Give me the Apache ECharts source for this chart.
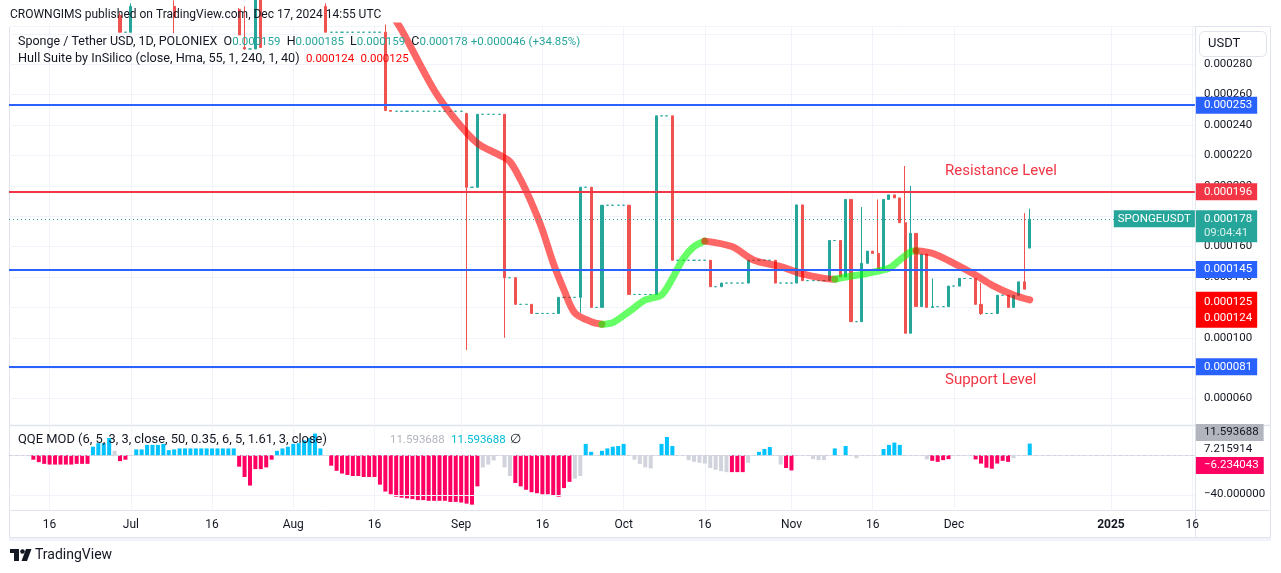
<!DOCTYPE html>
<html>
<head>
<meta charset="utf-8">
<title>Sponge / Tether USD, 1D</title>
<script src="https://cdn.jsdelivr.net/npm/echarts@6/dist/echarts.min.js"></script>
<style>
  html, body { margin: 0; padding: 0; background: #ffffff; }
  #chart { width: 1281px; height: 573px; }
</style>
</head>
<body>
<div id="chart"></div>
<script>
// prices are kept in millionths of USDT (0.000178 -> 178)
const firstDay = '2024-06-09';
const lastDay = '2025-01-16';
const missingDays = ['2024-07-27', '2024-12-01', '2024-12-02'];

const timeLabels = [
  ['2024-06-16', '16'], ['2024-07-01', 'Jul'], ['2024-07-16', '16'], ['2024-08-01', 'Aug'],
  ['2024-08-16', '16'], ['2024-09-01', 'Sep'], ['2024-09-16', '16'], ['2024-10-01', 'Oct'],
  ['2024-10-16', '16'], ['2024-11-01', 'Nov'], ['2024-11-16', '16'], ['2024-12-03', 'Dec'],
  ['2025-01-01', '2025'], ['2025-01-16', '16']
];

// one entry per daily bar: [open, close, low, high], a single number = no trades that day
const candles = [
  // June
  [326, 322, 320, 329], [322, 324, 319, 327], [324, 320, 318, 326], [320, 317, 315, 323],
  [317, 318, 314, 321], [318, 315, 313, 320], [315, 316, 312, 319], [316, 313, 311, 318],
  [313, 314, 310, 317], [314, 312, 309, 316], [312, 313, 309, 316], [313, 311, 308, 315],
  [311, 312, 308, 315], [312, 310, 307, 314], [310, 313, 308, 316], [313, 318, 311, 320],
  [318, 321, 316, 324], [321, 324, 319, 327], [324, 328, 322, 331], [328, 312, 310, 330],
  [312, 301, 301, 314], 301,
  // July
  [301, 318, 301, 320], [318, 321, 316, 323], [321, 323, 319, 325], [323, 326, 321, 328],
  [326, 327, 324, 330], [327, 329, 325, 331], [329, 320, 318, 331], [320, 318, 316, 322],
  [318, 311, 300.3, 322], [311, 314, 308, 316], [314, 316, 312, 318], [316, 318, 314, 320],
  [318, 317, 315, 320], [317, 319, 315, 321], [319, 318, 316, 321], [318, 320, 316, 322],
  [320, 319, 317, 322], [319, 321, 317, 323], [321, 320, 318, 323], [320, 316, 314, 322],
  [316, 299.2, 299.2, 317], [291, 290, 289.5, 318], 290, [290, 325, 290, 328],
  [325, 291, 291, 327], [318, 322, 316, 325], [322, 326, 320, 329], [326, 330, 324, 333],
  [330, 333, 328, 336], [333, 338, 331, 341],
  // August
  [338, 342, 336, 345], [342, 346, 340, 349], [346, 350, 344, 354], [350, 345, 343, 353],
  [345, 330, 328, 347], [330, 318, 316, 332], [318, 301, 301, 320],
  301, 301, 301, 301, 301, 301, 301, 301, 301, 301,
  [301, 249.5, 249.5, 306], [249.5, 249, 249, 249.5],
  249, 249, 249, 249, 249, 249, 249, 249, 249, 249, 249, 249,
  // September
  249, [247.5, 199, 92, 248], 199, [199, 247, 199, 247], 247, 247, 247, 247,
  [247, 139.5, 100, 247], 139.5, [139.5, 122, 122, 139.5], 122, 122,
  [122, 116, 116, 122], 116, 116, 116, 116, [116, 126.6, 116, 126.6], 126.6, 126.6, 126.6,
  [126.6, 199, 116.5, 199], 199, [199, 120, 120, 199], 120, [120, 187.2, 120, 187.2],
  187.2, 187.2, 187.2,
  // October
  187.2, [187.2, 128.5, 128.5, 187.2], 128.5, 128.5, 128.5, 128.5, [128.5, 246, 128.5, 246],
  246, 246, [246, 151, 151, 246], 151, 151, 151, 151, 151, 151, [151, 133.6, 133.6, 151],
  133.6, [133.6, 136, 133.6, 136], 136, 136, 136, 136, [136, 151, 136, 151],
  151, 151, 151, 151, [151, 136, 136, 151], 136, 136,
  // November
  136, [136, 187.4, 136, 187.4], [187.4, 137.6, 137.6, 187.4], 137.6, 137.6, 137.6, 137.6,
  [137.6, 164, 137.6, 164], 164, [164, 140, 140, 164], [140, 191, 140, 191],
  [191, 110.6, 110.6, 191], 110.6, [110.6, 149, 110.6, 186], [149, 157, 149, 157],
  [157, 155.5, 155.5, 157], [155.5, 145.3, 145.3, 191], [145.3, 191, 145.3, 191],
  [191, 194, 191, 194], [194, 192, 192, 194], [192, 175.7, 175.7, 192], [175.7, 103, 103, 213],
  [103, 168.7, 103, 200], [168.7, 120.5, 120.5, 168.7], [120.5, 155, 120.5, 155],
  [155, 120, 120, 155], [120, 120.5, 120, 139], 120.5, 120.5, [120.5, 134, 120.5, 134],
  // December
  134, [134, 139, 134, 139], 139, 139, [139, 122, 122, 139], [122, 116, 115, 136], 116, 116,
  [116, 128, 116, 128], 128, [128, 120, 120, 128], [120, 128, 120, 128],
  [128, 136.8, 128, 136.8], [136.8, 132, 132, 182], [159, 178, 159, 185]
];

// Hull Suite ribbon, read at a few dates
const hullFalling1 = [
  ['2024-08-18', 319], ['2024-08-21', 302.5], ['2024-08-27', 263], ['2024-08-31', 243.3],
  ['2024-09-04', 228], ['2024-09-08', 220.3], ['2024-09-10', 215.9], ['2024-09-12', 203.8],
  ['2024-09-14', 188.7], ['2024-09-16', 171], ['2024-09-18', 149.2], ['2024-09-20', 131.4],
  ['2024-09-22', 116.3], ['2024-09-25', 110.6], ['2024-09-27', 108.9]
];
const hullRising1 = [
  ['2024-09-27', 108.9], ['2024-09-29', 110], ['2024-10-02', 117.2], ['2024-10-05', 124.9],
  ['2024-10-08', 128.2], ['2024-10-10', 139], ['2024-10-12', 152], ['2024-10-14', 160],
  ['2024-10-16', 163.6]
];
const hullFalling2 = [
  ['2024-10-16', 163.6], ['2024-10-21', 160], ['2024-10-25', 151.2], ['2024-10-30', 146.8],
  ['2024-11-03', 142], ['2024-11-07', 139.1], ['2024-11-09', 138.5]
];
const hullRising2 = [
  ['2024-11-09', 138.5], ['2024-11-11', 140], ['2024-11-15', 142.4], ['2024-11-19', 145.7],
  ['2024-11-21', 151.2], ['2024-11-23', 156.6], ['2024-11-24', 157.3]
];
const hullFalling3 = [
  ['2024-11-24', 157.3], ['2024-11-27', 155.6], ['2024-12-03', 149], ['2024-12-07', 141.3],
  ['2024-12-10', 134.7], ['2024-12-14', 128.2], ['2024-12-17', 124.9]
];
const hullLegend = [124, 125];

const blueLevels = [253, 145, 81];
const resistance = 196;

// QQE MOD histogram: [first bar index, state, values...]
const qqeRuns = [
  [4, 'down', [-4.4, -6.8, -8.5, -9.2, -9.2, -9.2, -9.2, -9.2, -8.5, -8.5, -8.5]],
  [15, 'up', [8.5, 12, 12, 17.1]],
  [19, 'flat', [4.4]],
  [20, 'down', [-5.8, -4.4]],
  [23, 'up', [5.8, 5.8, 10.3, 10.3, 10.3, 11.3, 5.1, 5.8, 6.8, 6.8, 6.8, 6.8, 6.8, 6.8, 6.8, 6.8, 6.8, 6.8, 6.8]],
  [42, 'down', [-11.3, -21.5, -30, -13.7, -13.7, -12, -4.4]],
  [49, 'up', [4.4, 6.8, 8.5, 11.3, 12, 14.8, 17.1, 21.5, 6.8]],
  [59, 'down', [-10.3, -15.4, -18.1, -19.5, -20.5, -20.5, -21.5, -21.5, -21.5, -29.1, -35.9, -38.6,
    -41, -42, -42.7, -43.4, -44.4, -44.4, -45.1, -45.1, -45.1, -45.1, -46.2, -46.2, -46.8, -47.9, -48.9, -30.8]],
  [87, 'flat', [-12, -9.2, -5.1]],
  [91, 'flat', [-12, -20.5]],
  [93, 'down', [-27.4, -30.8, -34.2, -36.6, -37.6, -38.6, -38.6, -40, -41, -32.5, -26.3]],
  [104, 'flat', [-23.2, -20.5]],
  [106, 'up', [11.3, 3.4]],
  [109, 'up', [4.4, 6.8, 8.5, 9.2, 11.3]],
  [115, 'flat', [-4.4, -8.5, -12, -13]],
  [120, 'up', [11.3, 18.1, 9.2]],
  [125, 'flat', [-4.8, -6.5, -7.5, -8.2, -12.6, -14.4, -15.7, -16.7]],
  [133, 'down', [-16.7, -16.7, -16.7]],
  [136, 'flat', [-7.5]],
  [138, 'up', [3.4, 6.2, 8.2]],
  [142, 'flat', [-9.2]],
  [143, 'down', [-12.6, -15]],
  [148, 'flat', [-3.8, -4.8, -4.8]],
  [152, 'up', [6.8]],
  [154, 'up', [9.2]],
  [156, 'flat', [-3]],
  [161, 'up', [6.2, 10.3, 12.6, 10.3]],
  [169, 'flat', [-4.1]],
  [170, 'down', [-5.5, -6.5, -4.8, -3.8]],
  [178, 'down', [-4.1, -8.2, -12.3, -13.3, -8.2, -5.5, -6.5]],
  [185, 'flat', [-3]],
  [188, 'up', [11.593688]]
];
const qqeMarks = [11.593688, 7.215914, -6.234043, -40];

// ---------------------------------------------------------------
const UP = '#26a69a';
const DOWN = '#ef5350';
const BLUE = '#2962ff';
const RED = '#f23645';
const GRID = '#f0f3fa';
const TEXT = '#131722';
const CLEAR = 'rgba(0,0,0,0)';
const FONT = 'Roboto, "Liberation Sans", sans-serif';
const qqeColors = { up: '#00c3ff', down: '#ff0062', flat: '#d1d4dc' };

function buildDays(from, to, skip) {
  const out = [];
  const d = new Date(from + 'T00:00:00Z');
  const end = new Date(to + 'T00:00:00Z');
  while (d <= end) {
    const s = d.toISOString().slice(0, 10);
    if (!skip.includes(s)) out.push(s);
    d.setUTCDate(d.getUTCDate() + 1);
  }
  return out;
}

const days = buildDays(firstDay, lastDay, missingDays);
const labelMap = new Map(timeLabels);
const fmt = v => (v / 1e6).toFixed(6);

const ohlc = candles.map(c => Array.isArray(c) ? c : [c, c, c, c]);
const last = ohlc[ohlc.length - 1];
const prevClose = ohlc[ohlc.length - 2][1];
const change = last[1] - prevClose;
const changePct = (change / prevClose * 100).toFixed(2);

const qqeData = days.map(() => '-');
qqeRuns.forEach(([start, state, values]) => {
  values.forEach((v, i) => {
    qqeData[start + i] = { value: v, itemStyle: { color: qqeColors[state] } };
  });
});

const isLabelDay = (i, v) => labelMap.has(v);

function axisBox(bg, color) {
  return {
    show: true, position: 'end', distance: 1, color: color || '#fff',
    backgroundColor: bg, padding: [2, 5, 2, 8], fontSize: 11.5, fontFamily: FONT, lineHeight: 13
  };
}

function hullLine(data, color) {
  return {
    type: 'line', xAxisIndex: 0, yAxisIndex: 0, data: data,
    smooth: 0.3, showSymbol: false, silent: true, z: 4,
    lineStyle: { width: 7, color: color, cap: 'round' }
  };
}

// legend text: words at the given size, numbers (keys starting with n) at 11.5px
function legendText(x, y, text, colors, size) {
  const wordSize = size || 12.5;
  const rich = {};
  Object.keys(colors).forEach(k => {
    const numeric = k.charAt(0) === 'n';
    rich[k] = { fill: colors[k], font: (numeric ? 11.5 : wordSize) + 'px ' + FONT };
  });
  return {
    type: 'text', x: x, y: y, z: 100,
    style: { text: text, verticalAlign: 'middle', font: wordSize + 'px ' + FONT, rich: rich }
  };
}

const chart = echarts.init(document.getElementById('chart'));

chart.setOption({
  animation: false,
  textStyle: { fontFamily: FONT },
  grid: [
    { left: 9, right: 86.1, top: 26, height: 403, outerBoundsMode: 'none' },
    { left: 9, right: 86.1, top: 425.7, height: 85, outerBoundsMode: 'none' }
  ],
  xAxis: [
    {
      type: 'category', gridIndex: 0, data: days, boundaryGap: true,
      axisLine: { show: false }, axisTick: { show: false }, axisLabel: { show: false },
      splitLine: { show: true, interval: isLabelDay, alignWithLabel: true, lineStyle: { color: GRID } }
    },
    {
      type: 'category', gridIndex: 1, data: days, boundaryGap: true,
      axisLine: { show: true, lineStyle: { color: '#e0e3eb' } },
      axisTick: { show: false },
      axisLabel: {
        interval: isLabelDay, margin: 8, color: TEXT, fontSize: 12, fontFamily: FONT,
        formatter: v => {
          const t = labelMap.get(v) || '';
          return /^\d{4}$/.test(t) ? '{y|' + t + '}' : t;
        },
        rich: { y: { fontWeight: 'bold', fontSize: 12, color: TEXT, fontFamily: FONT } }
      },
      splitLine: { show: true, interval: isLabelDay, alignWithLabel: true, lineStyle: { color: GRID } }
    }
  ],
  yAxis: [
    {
      type: 'value', gridIndex: 0, position: 'right', min: 40, max: 305.1, interval: 20,
      axisLine: { show: false }, axisTick: { show: false },
      axisLabel: {
        margin: 9, color: TEXT, fontSize: 11.5, fontFamily: FONT,
        formatter: v => (v >= 50 && v <= 290 ? fmt(v) : '')
      },
      splitLine: { show: true, showMinLine: false, lineStyle: { color: GRID } }
    },
    {
      type: 'value', gridIndex: 1, position: 'right', min: -54.9, max: 29.3,
      axisLine: { show: false }, axisTick: { show: false }, axisLabel: { show: false },
      splitLine: { show: false }
    }
  ],
  series: [
    {
      type: 'candlestick', xAxisIndex: 0, yAxisIndex: 0, data: ohlc, clip: true,
      barWidth: 2.6, z: 3,
      itemStyle: { color: UP, color0: DOWN, borderColor: UP, borderColor0: DOWN, borderWidth: 1 },
      markLine: {
        silent: true, symbol: ['none', 'none'], animation: false, z: 5,
        data: [
          ...blueLevels.map(v => ({
            yAxis: v, lineStyle: { color: BLUE, width: 2, type: 'solid' },
            label: Object.assign(axisBox(BLUE), { formatter: fmt(v) })
          })),
          {
            yAxis: resistance, lineStyle: { color: RED, width: 2, type: 'solid' },
            label: Object.assign(axisBox(RED), { formatter: fmt(resistance) })
          },
          {
            yAxis: last[1], lineStyle: { color: UP, width: 1, type: [1, 3] },
            label: Object.assign(axisBox(UP), {
              offset: [0, 7],
              formatter: '{p|' + fmt(last[1]) + '}\n{t|09:04:41}',
              rich: {
                p: { color: '#fff', fontSize: 11.5, lineHeight: 14, fontFamily: FONT },
                t: { color: '#d4efeb', fontSize: 11.5, lineHeight: 14, fontFamily: FONT }
              }
            })
          },
          {
            yAxis: last[1], lineStyle: { color: CLEAR, width: 0 },
            label: {
              show: true, position: 'insideEndTop', distance: 0, offset: [0, 8],
              formatter: 'SPONGEUSDT', color: '#fff', backgroundColor: UP,
              padding: [2, 4, 2, 4], fontSize: 11.5, fontFamily: FONT, lineHeight: 13
            }
          },
          {
            yAxis: hullLegend[1], lineStyle: { color: CLEAR, width: 0 },
            label: Object.assign(axisBox('#ff0000'), {
              offset: [0, 10], lineHeight: 16,
              formatter: fmt(hullLegend[1]) + '\n' + fmt(hullLegend[0])
            })
          }
        ]
      }
    },
    hullLine(hullFalling1, 'rgba(255,0,0,0.6)'),
    hullLine(hullRising1, 'rgba(0,255,0,0.6)'),
    hullLine(hullFalling2, 'rgba(255,0,0,0.6)'),
    hullLine(hullRising2, 'rgba(0,255,0,0.6)'),
    hullLine(hullFalling3, 'rgba(255,0,0,0.6)'),
    {
      type: 'bar', xAxisIndex: 1, yAxisIndex: 1, data: qqeData, barWidth: 4, z: 3,
      markLine: {
        silent: true, symbol: ['none', 'none'], animation: false,
        data: [
          { yAxis: 0, lineStyle: { color: '#d1d4dc', width: 1, type: [3, 3] }, label: { show: false } },
          {
            yAxis: qqeMarks[3], lineStyle: { color: GRID, width: 1, type: 'solid' },
            label: Object.assign(axisBox(CLEAR, TEXT), { offset: [0, -2], formatter: '\u221240.000000' })
          },
          {
            yAxis: qqeMarks[0], lineStyle: { color: CLEAR, width: 0 },
            label: Object.assign(axisBox('#b2b5be', TEXT), { offset: [0, -11], formatter: qqeMarks[0].toFixed(6) })
          },
          {
            yAxis: qqeMarks[1], lineStyle: { color: CLEAR, width: 0 },
            label: Object.assign(axisBox(CLEAR, TEXT), { offset: [0, 1], formatter: qqeMarks[1].toFixed(6) })
          },
          {
            yAxis: qqeMarks[2], lineStyle: { color: CLEAR, width: 0 },
            label: Object.assign(axisBox('#ff0062'), { offset: [0, 4], formatter: '\u2212' + Math.abs(qqeMarks[2]).toFixed(6) })
          }
        ]
      }
    }
  ],
  graphic: [
    // frame
    { type: 'rect', z: 0, shape: { x: 9.5, y: 26.5, width: 1261, height: 511 }, style: { fill: 'none', stroke: '#e0e3eb', lineWidth: 1 } },
    { type: 'line', z: 0, shape: { x1: 1195.5, y1: 26, x2: 1195.5, y2: 537 }, style: { stroke: '#e0e3eb', lineWidth: 1 } },
    { type: 'line', z: 0, shape: { x1: 9, y1: 425.5, x2: 1271, y2: 425.5 }, style: { stroke: '#e0e3eb', lineWidth: 1.5 } },
    { type: 'line', z: 0, shape: { x1: 9, y1: 510.5, x2: 1271, y2: 510.5 }, style: { stroke: '#e0e3eb', lineWidth: 1 } },
    { type: 'rect', z: 0, shape: { x: 9, y: 538, width: 1262, height: 3 }, style: { fill: '#f0f3fa' } },
    // header
    {
      type: 'text', x: 10, y: 15, z: 100,
      style: { text: 'CROWNGIMS published on TradingView.com, Dec 17, 2024 14:55 UTC', fill: TEXT, font: '12px ' + FONT, verticalAlign: 'middle' }
    },
    // legends
    legendText(18, 42,
      '{t|Sponge / Tether USD, 1D, POLONIEX}  {t|O}{nv|' + fmt(last[0]) + '}  {t|H}{nv|' + fmt(last[3]) +
      '}  {t|L}{nv|' + fmt(last[2]) + '}  {t|C}{nv|' + fmt(last[1]) + '} {nv|+' + fmt(change) + ' (+' + changePct + '%)}',
      { t: TEXT, nv: UP }),
    legendText(18, 59,
      '{t|Hull Suite by InSilico (close, Hma, 55, 1, 240, 1, 40)}  {nr|' + fmt(hullLegend[0]) + '}  {nr|' + fmt(hullLegend[1]) + '}',
      { t: TEXT, nr: '#ff0000' }, 12.7),
    legendText(18, 440, '{q|QQE MOD (6, 5, 3, 3, close, 50, 0.35, 6, 5, 1.61, 3, close)}', { q: TEXT }, 12.9),
    legendText(390, 440, '{ng|' + qqeMarks[0].toFixed(6) + '}', { ng: '#b2b5be' }),
    legendText(451, 440, '{nb|' + qqeMarks[0].toFixed(6) + '}', { nb: '#00bcd4' }),
    legendText(510, 440, '{t|\u2205}', { t: TEXT }),
    // drawings
    { type: 'text', x: 945, y: 171.5, z: 100, style: { text: 'Resistance Level', fill: RED, font: '15px ' + FONT, verticalAlign: 'middle' } },
    { type: 'text', x: 945, y: 380, z: 100, style: { text: 'Support Level', fill: RED, font: '15px ' + FONT, verticalAlign: 'middle' } },
    // currency button
    { type: 'rect', z: 100, shape: { x: 1199.5, y: 31.5, width: 67, height: 25, r: 5 }, style: { fill: '#fff', stroke: '#e0e3eb', lineWidth: 1 } },
    { type: 'text', x: 1208, y: 44, z: 101, style: { text: 'USDT', fill: TEXT, font: '13px ' + FONT, verticalAlign: 'middle' } },
    // footer logo
    { type: 'rect', z: 100, shape: { x: 10, y: 549, width: 9, height: 4 }, style: { fill: TEXT } },
    { type: 'rect', z: 100, shape: { x: 14, y: 549, width: 5, height: 12 }, style: { fill: TEXT } },
    { type: 'circle', z: 100, shape: { cx: 22.5, cy: 551.5, r: 2.3 }, style: { fill: TEXT } },
    { type: 'polygon', z: 100, shape: { points: [[26, 549], [31.5, 549], [27, 561], [21.5, 561]] }, style: { fill: TEXT } },
    { type: 'text', x: 35, y: 555.5, z: 100, style: { text: 'TradingView', fill: TEXT, font: '14px ' + FONT, verticalAlign: 'middle' } }
  ]
});
</script>
</body>
</html>
